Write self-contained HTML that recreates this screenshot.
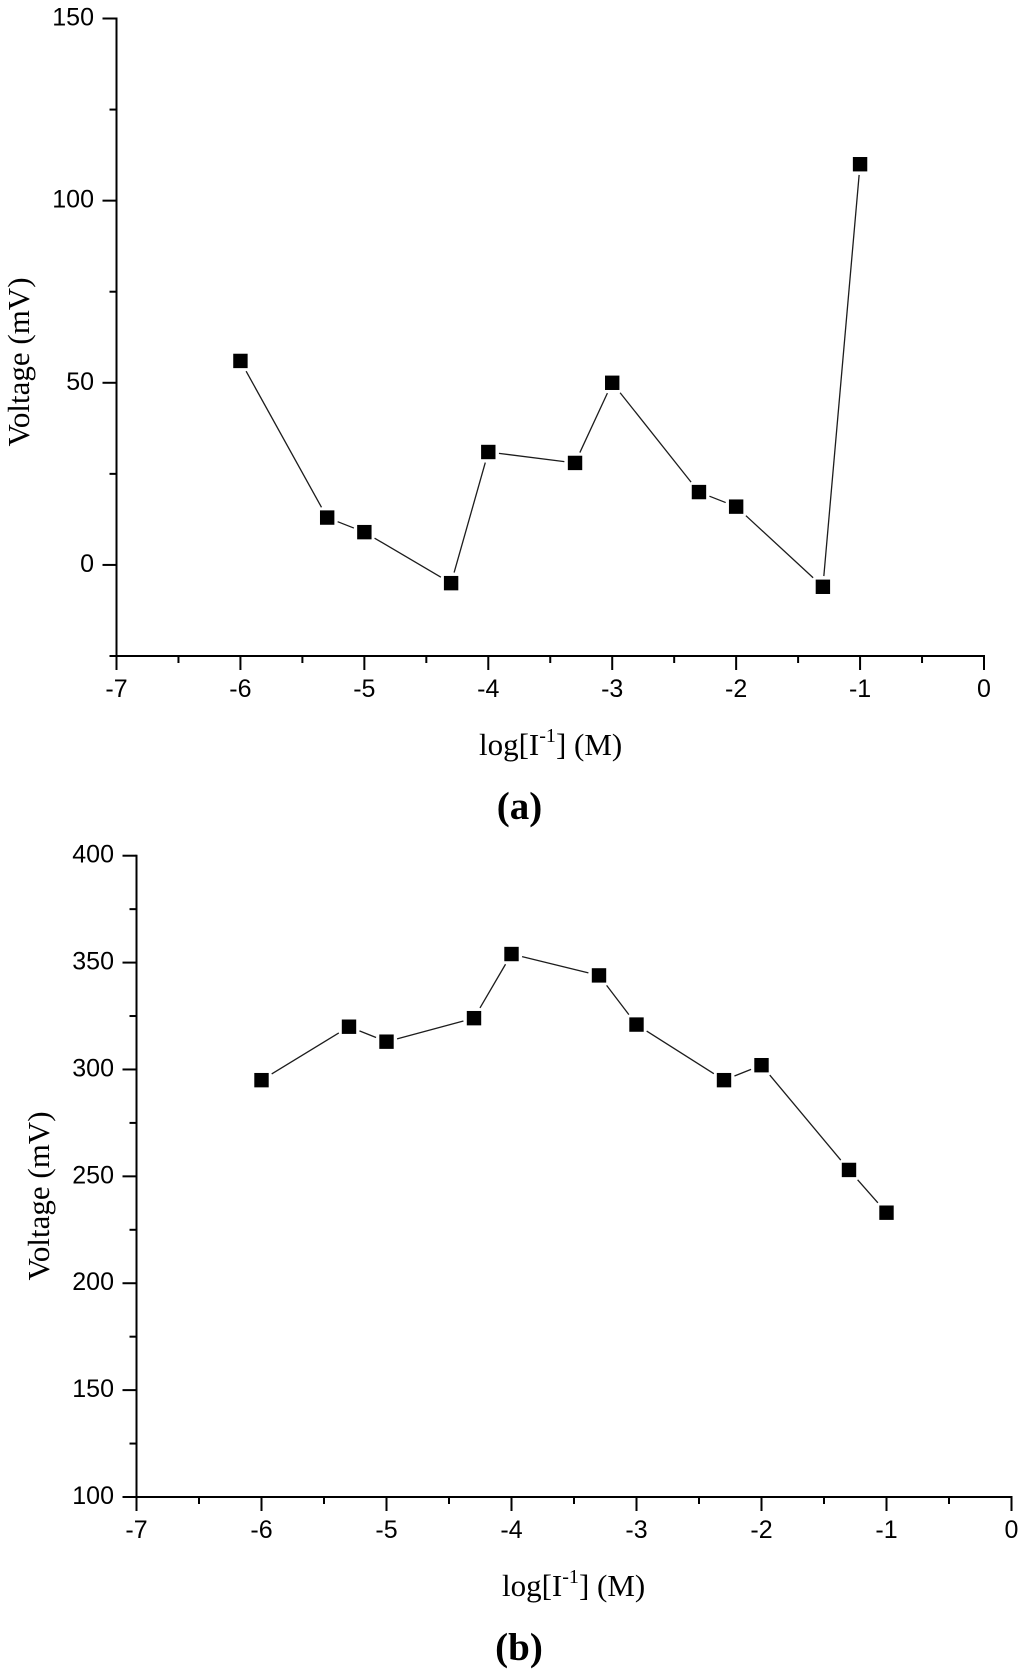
<!DOCTYPE html>
<html lang="en">
<head>
<meta charset="utf-8">
<title>Voltage vs log[I-1]</title>
<style>
  html, body { margin: 0; padding: 0; background: #fff; }
  svg { display: block; filter: blur(0.35px); }
  .tick-label { font-family: "Liberation Sans", Arial, sans-serif; font-size: 25px; fill: #000; }
  .title { font-family: "Liberation Serif", "Times New Roman", serif; font-size: 31px; fill: #000; }
  .x-title { font-family: "Liberation Serif", "Times New Roman", serif; font-size: 31px; fill: #000; }
  .caption { font-family: "Liberation Serif", "Times New Roman", serif; font-size: 39px; font-weight: bold; fill: #000; }
</style>
</head>
<body>
<svg id="figure" xmlns="http://www.w3.org/2000/svg" width="1024" height="1675" viewBox="0 0 1024 1675">
  <rect width="1024" height="1675" fill="#fff"/>
  <g id="panel-a"></g>
  <g id="panel-b"></g>

  <text class="title" transform="translate(29 362) rotate(-90)" text-anchor="middle">Voltage (mV)</text>
  <text class="x-title" x="479" y="755">log[I<tspan font-size="20" dy="-13">-1</tspan><tspan dy="13">] (M)</tspan></text>
  <text class="caption" x="519.5" y="819" text-anchor="middle">(a)</text>

  <text class="title" transform="translate(49 1196) rotate(-90)" text-anchor="middle">Voltage (mV)</text>
  <text class="x-title" x="502" y="1596">log[I<tspan font-size="20" dy="-13">-1</tspan><tspan dy="13">] (M)</tspan></text>
  <text class="caption" x="519" y="1660" text-anchor="middle">(b)</text>
</svg>
<script>
// Shared categories: log[I-] concentration
const logConcentration = [-6, -5.3, -5, -4.3, -4, -3.3, -3, -2.3, -2, -1.3, -1];
// Series values (mV)
const voltageA = [56, 13, 9, -5, 31, 28, 50, 20, 16, -6, 110];
const voltageB = [295, 320, 313, 324, 354, 344, 321, 295, 302, 253, 233];
// Tick labels
const xTickValues = [-7, -6, -5, -4, -3, -2, -1, 0];
const xMinorTickValues = [-6.5, -5.5, -4.5, -3.5, -2.5, -1.5, -0.5];
const yTickValuesA = [0, 50, 100, 150];
const yMinorTickValuesA = [-25, 25, 75, 125];
const yTickValuesB = [100, 150, 200, 250, 300, 350, 400];
const yMinorTickValuesB = [125, 175, 225, 275, 325, 375];

const SVG_NS = 'http://www.w3.org/2000/svg';

function make(parent, tag, attrs) {
  const el = document.createElementNS(SVG_NS, tag);
  for (const key in attrs) el.setAttribute(key, attrs[key]);
  parent.appendChild(el);
  return el;
}

function linearScale(d0, d1, r0, r1) {
  return function (v) { return r0 + (v - d0) * (r1 - r0) / (d1 - d0); };
}

function drawPanel(cfg) {
  const g = document.getElementById(cfg.id);
  const x = linearScale(-7, 0, cfg.left, cfg.right);
  const y = linearScale(cfg.yMin, cfg.yMax, cfg.bottom, cfg.top);
  const axisStyle = { stroke: '#000', 'stroke-width': 2, fill: 'none', 'stroke-linecap': 'square' };

  const yAxis = make(g, 'line', Object.assign({ x1: cfg.left, x2: cfg.left, y1: cfg.top, y2: cfg.bottom }, axisStyle));
  
  
  const xAxis = make(g, 'line', Object.assign({ x1: cfg.left, x2: cfg.right, y1: cfg.bottom, y2: cfg.bottom }, axisStyle));
  
  

  const tickStyle = { stroke: '#000', 'stroke-width': 2 };
  xTickValues.forEach(function (v) {
    const t = make(g, 'line', Object.assign({ x1: x(v), x2: x(v), y1: cfg.bottom, y2: cfg.bottom + 14 }, tickStyle));
    
    
    const label = make(g, 'text', { class: 'tick-label', x: x(v), y: cfg.xLabelY, 'text-anchor': 'middle' });
    label.textContent = String(v);
    
    
  });
  xMinorTickValues.forEach(function (v) {
    const t = make(g, 'line', Object.assign({ x1: x(v), x2: x(v), y1: cfg.bottom, y2: cfg.bottom + 7 }, tickStyle));
    
    
  });
  cfg.yTicks.forEach(function (v) {
    const t = make(g, 'line', Object.assign({ x1: cfg.left - 14, x2: cfg.left, y1: y(v), y2: y(v) }, tickStyle));
    
    
    const label = make(g, 'text', { class: 'tick-label', x: cfg.left - 22.5, y: y(v) + 7, 'text-anchor': 'end' });
    label.textContent = String(v);
    
    
  });
  cfg.yMinorTicks.forEach(function (v) {
    const t = make(g, 'line', Object.assign({ x1: cfg.left - 7, x2: cfg.left, y1: y(v), y2: y(v) }, tickStyle));
    
    
  });

  const half = 7.2;
  const gap = 3.5;
  logConcentration.forEach(function (c, i) {
    if (i === logConcentration.length - 1) return;
    const x0 = x(c), y0 = y(cfg.values[i]);
    const x1 = x(logConcentration[i + 1]), y1 = y(cfg.values[i + 1]);
    const dx = x1 - x0, dy = y1 - y0;
    const len = Math.sqrt(dx * dx + dy * dy);
    const ux = dx / len, uy = dy / len;
    // Distance from a marker centre to the square's edge along the segment, plus the small gap
    const trim = half / Math.max(Math.abs(ux), Math.abs(uy)) + gap;
    const seg = make(g, 'line', {
      x1: x0 + ux * trim, y1: y0 + uy * trim,
      x2: x1 - ux * trim, y2: y1 - uy * trim,
      stroke: '#1c1c1c', 'stroke-width': 1.3
    });
    
    
  });
  logConcentration.forEach(function (c, i) {
    const p = make(g, 'rect', {
      x: x(c) - half, y: y(cfg.values[i]) - half,
      width: half * 2, height: half * 2, fill: '#000'
    });
    
    
  });
}

drawPanel({
  id: 'panel-a', values: voltageA,
  left: 116.5, right: 984, top: 18.5, bottom: 656,
  yMin: -25, yMax: 150, xLabelY: 697,
  yTicks: yTickValuesA, yMinorTicks: yMinorTickValuesA
});
drawPanel({
  id: 'panel-b', values: voltageB,
  left: 136.5, right: 1011.5, top: 855.7, bottom: 1497,
  yMin: 100, yMax: 400, xLabelY: 1538,
  yTicks: yTickValuesB, yMinorTicks: yMinorTickValuesB
});
</script>
</body>
</html>
